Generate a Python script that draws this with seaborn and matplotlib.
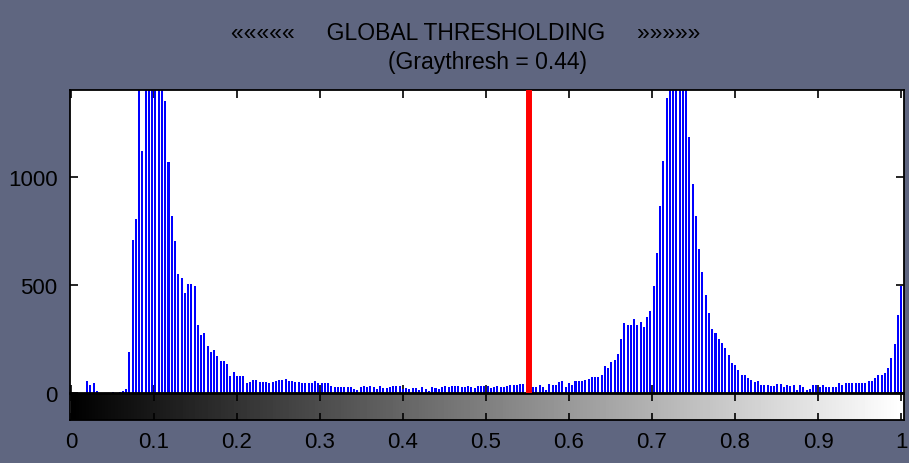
import numpy as np
import pandas as pd
import matplotlib
matplotlib.use("Agg")
import matplotlib.pyplot as plt
import seaborn as sns

# ---------------- data ----------------
title_line1 = "«««««     GLOBAL THRESHOLDING     »»»»»"
title_line2 = "(Graythresh = 0.44)"
threshold_line_x = 0.552
y_ticks = [0, 500, 1000]
y_tick_labels = ["0", "500", "1000"]
x_ticks = [0, 0.1, 0.2, 0.3, 0.4, 0.5, 0.6, 0.7, 0.8, 0.9, 1.0]
x_tick_labels = ["0", "0.1", "0.2", "0.3", "0.4", "0.5", "0.6", "0.7", "0.8", "0.9", "1"]

# histogram counts for the 256 gray levels
counts_000_031 = [0, 0, 0, 0, 0, 55, 38, 44, 8, 0, 0, 0, 0, 5, 0, 6,
                  8, 20, 190, 705, 803, 1600, 1119, 1800, 2000, 2100, 1900, 1700, 1500, 1350, 1066, 820]
counts_032_063 = [703, 551, 531, 462, 505, 505, 495, 315, 269, 279, 215, 189, 197, 169, 150, 146,
                  135, 80, 95, 80, 80, 80, 46, 50, 61, 61, 53, 53, 53, 46, 50, 54]
counts_064_095 = [58, 62, 65, 54, 54, 49, 52, 46, 46, 46, 45, 54, 45, 45, 45, 45,
                  31, 26, 26, 26, 26, 26, 26, 20, 15, 26, 31, 29, 31, 26, 20, 31]
counts_096_127 = [23, 23, 26, 34, 34, 31, 18, 23, 20, 23, 23, 15, 26, 18, 11, 26,
                  23, 18, 26, 34, 26, 34, 31, 34, 26, 26, 34, 26, 23, 31, 34, 34]
counts_128_159 = [34, 23, 26, 34, 26, 26, 34, 35, 35, 38, 40, 40, 40, 40, 26, 26,
                  35, 26, 15, 43, 38, 38, 49, 54, 28, 46, 38, 54, 54, 54, 62, 65]
counts_160_191 = [72, 72, 72, 82, 123, 115, 143, 152, 180, 251, 322, 315, 315, 342, 315, 326,
                  306, 351, 377, 495, 649, 865, 1072, 1362, 1500, 1700, 1900, 2000, 1800, 1500, 1182, 965]
counts_192_223 = [820, 666, 558, 451, 369, 297, 277, 251, 231, 206, 174, 138, 131, 108, 82, 82,
                  69, 62, 49, 54, 38, 38, 38, 34, 34, 43, 43, 28, 38, 34, 38, 15]
counts_224_255 = [38, 28, 15, 20, 38, 38, 28, 38, 28, 28, 28, 28, 46, 38, 46, 46,
                  46, 46, 46, 46, 46, 54, 57, 69, 85, 85, 92, 115, 162, 226, 362, 495]

counts = (counts_000_031 + counts_032_063 + counts_064_095 + counts_096_127 +
          counts_128_159 + counts_160_191 + counts_192_223 + counts_224_255)
gray_levels = np.arange(len(counts)) / 255.0

# ---------------- style ----------------
bg = "#5f6680"
sns.set_theme(style="white")
plt.rcParams["font.family"] = ["Liberation Sans", "DejaVu Sans"]

W, H = 909, 464
fig = plt.figure(figsize=(W / 100, H / 100), dpi=100, facecolor=bg)

# main histogram axes
ax = fig.add_axes([70 / W, (H - 394) / H, 834 / W, 303 / H])
ax.set_facecolor("white")
df = pd.DataFrame({"level": gray_levels, "count": counts})
sns.histplot(data=df, x="level", weights="count", bins=256,
             binrange=(-0.5 / 255, 1 + 0.5 / 255), shrink=0.62,
             color="#0000ff", alpha=1, linewidth=0, ax=ax)
ax.axvline(threshold_line_x, color="#ff0000", lw=4.3, zorder=5)

ax.set_xlim(-0.001, 1.0035)
ax.set_ylim(0, 1400)
ax.set_xlabel("")
ax.set_ylabel("")
ax.set_xticks(x_ticks)
ax.set_yticks(y_ticks)
ax.set_yticklabels(y_tick_labels)
ax.tick_params(axis="both", direction="in", length=6, width=1.2, color="black",
               top=True, right=True, bottom=True, left=True,
               labelbottom=False, labelsize=16, pad=9, labelcolor="black")
for s in ax.spines.values():
    s.set_color("black")
    s.set_linewidth(1.3)

# gray colour bar below
cax = fig.add_axes([70 / W, (H - 421) / H, 834 / W, 26 / H])
gradient = np.linspace(0, 1, 256).reshape(1, -1)
cax.imshow(gradient, cmap="gray", aspect="auto", extent=[0, 1, 0, 1],
           interpolation="bilinear")
cax.set_xlim(-0.001, 1.0035)
cax.set_ylim(0, 1)
cax.set_yticks([])
cax.set_xticks(x_ticks)
cax.set_xticklabels(x_tick_labels)
cax.tick_params(axis="x", direction="in", length=5, width=1.2, color="black",
                top=True, bottom=True, labelsize=16, pad=8, labelcolor="black")
for s in cax.spines.values():
    s.set_color("black")
    s.set_linewidth(1.3)

# titles
fig.text(466 / W, 1 - 33 / H, title_line1, ha="center", va="center",
         fontsize=16.5, color="black")
fig.text(487 / W, 1 - 63 / H, title_line2, ha="center", va="center",
         fontsize=16.5, color="black")

fig.savefig("out.png", dpi=100, facecolor=bg)
